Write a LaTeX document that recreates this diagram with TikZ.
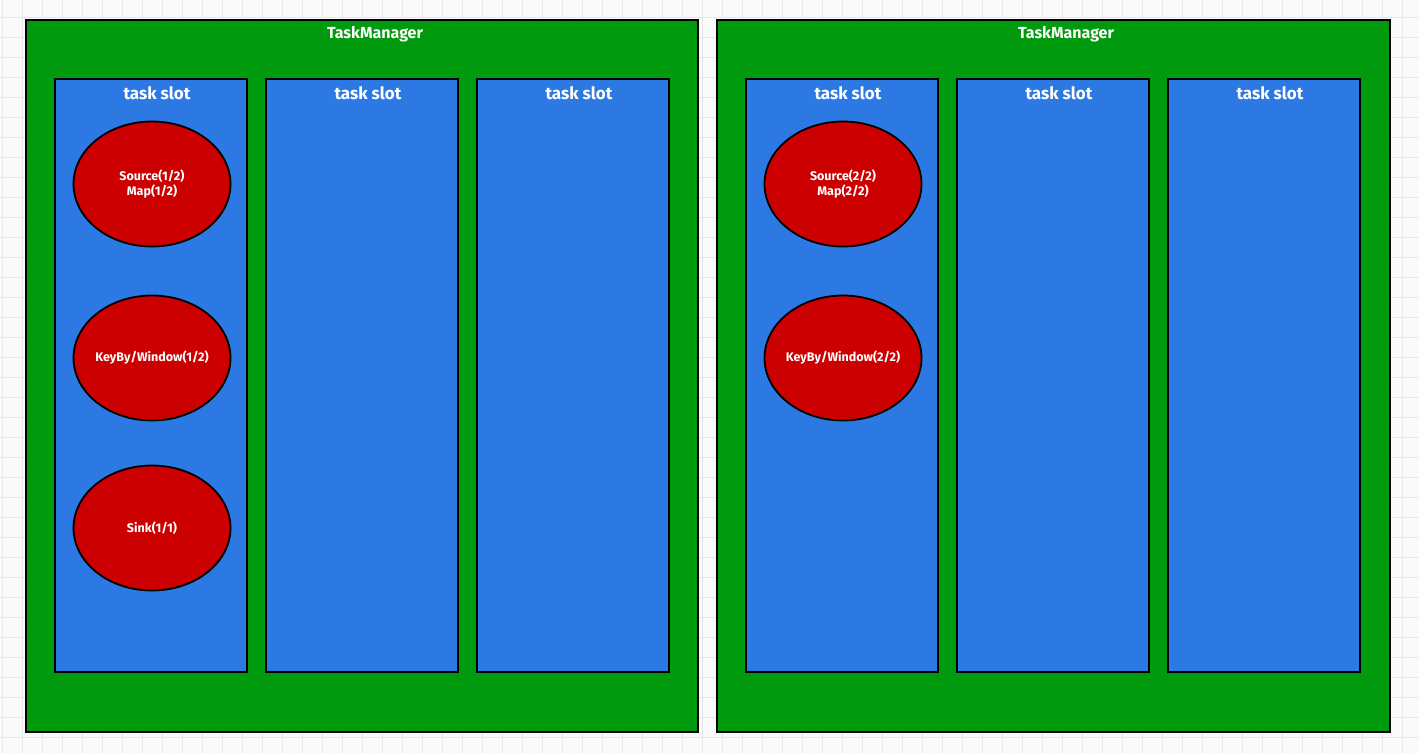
\documentclass[tikz,border=0pt]{standalone}
\usepackage{fontspec}
\setmainfont{Fira Sans}
\definecolor{bgc}{HTML}{FAFAFA}
\definecolor{gridc}{HTML}{E8E8E8}
\definecolor{tmgreen}{HTML}{009A0E}
\definecolor{slotblue}{HTML}{2D79E3}
\definecolor{opred}{HTML}{CC0000}
\tikzset{
  tmbox/.style={draw=black, line width=1.8pt, fill=tmgreen},
  slotbox/.style={draw=black, line width=1.8pt, fill=slotblue},
  opnode/.style={ellipse, draw=black, line width=1.8pt, fill=opred, minimum width=157pt, minimum height=125pt, inner sep=0pt},
  oplbl/.style={text=white, font=\fontsize{12.5}{15}\selectfont\bfseries, align=center},
  ttl/.style={text=white, font=\fontsize{16}{18}\selectfont\bfseries},
  slttl/.style={text=white, font=\fontsize{17}{19}\selectfont\bfseries},
}
\usetikzlibrary{shapes.geometric}
\begin{document}
\begin{tikzpicture}[x=1pt,y=-1pt]
\useasboundingbox (0,0) rectangle (1419,753);
\fill[bgc] (0,0) rectangle (1419,753);
\foreach \gx in {2,22,...,1419} \draw[gridc, line width=1pt] (\gx,0) -- (\gx,753);
\foreach \gy in {17,37,...,753} \draw[gridc, line width=1pt] (0,\gy) -- (1419,\gy);
% TaskManager 1
\draw[tmbox] (26,20) rectangle (698,732);
\node[ttl] (tm1) at (375,34) {TaskManager};
\draw[slotbox] (55,79) rectangle (247,672);
\draw[slotbox] (266,79) rectangle (458,672);
\draw[slotbox] (477,79) rectangle (669,672);
\node[slttl] (s11) at (157,93) {task slot};
\node[slttl] (s12) at (368,93) {task slot};
\node[slttl] (s13) at (579,93) {task slot};
\node[opnode, label={[oplbl]center:Source(1/2)\\Map(1/2)}] (a1) at (152,184) {};
\node[opnode, label={[oplbl]center:KeyBy/Window(1/2)}] (a2) at (152,358) {};
\node[opnode, label={[oplbl]center:Sink(1/1)}] (a3) at (152,528) {};
% TaskManager 2
\draw[tmbox] (717,20) rectangle (1390,732);
\node[ttl] (tm2) at (1066,34) {TaskManager};
\draw[slotbox] (746,79) rectangle (938,672);
\draw[slotbox] (957,79) rectangle (1149,672);
\draw[slotbox] (1168,79) rectangle (1360,672);
\node[slttl] (s21) at (848,93) {task slot};
\node[slttl] (s22) at (1059,93) {task slot};
\node[slttl] (s23) at (1270,93) {task slot};
\node[opnode, label={[oplbl]center:Source(2/2)\\Map(2/2)}] (b1) at (843,184) {};
\node[opnode, label={[oplbl]center:KeyBy/Window(2/2)}] (b2) at (843,358) {};
\end{tikzpicture}
\end{document}
